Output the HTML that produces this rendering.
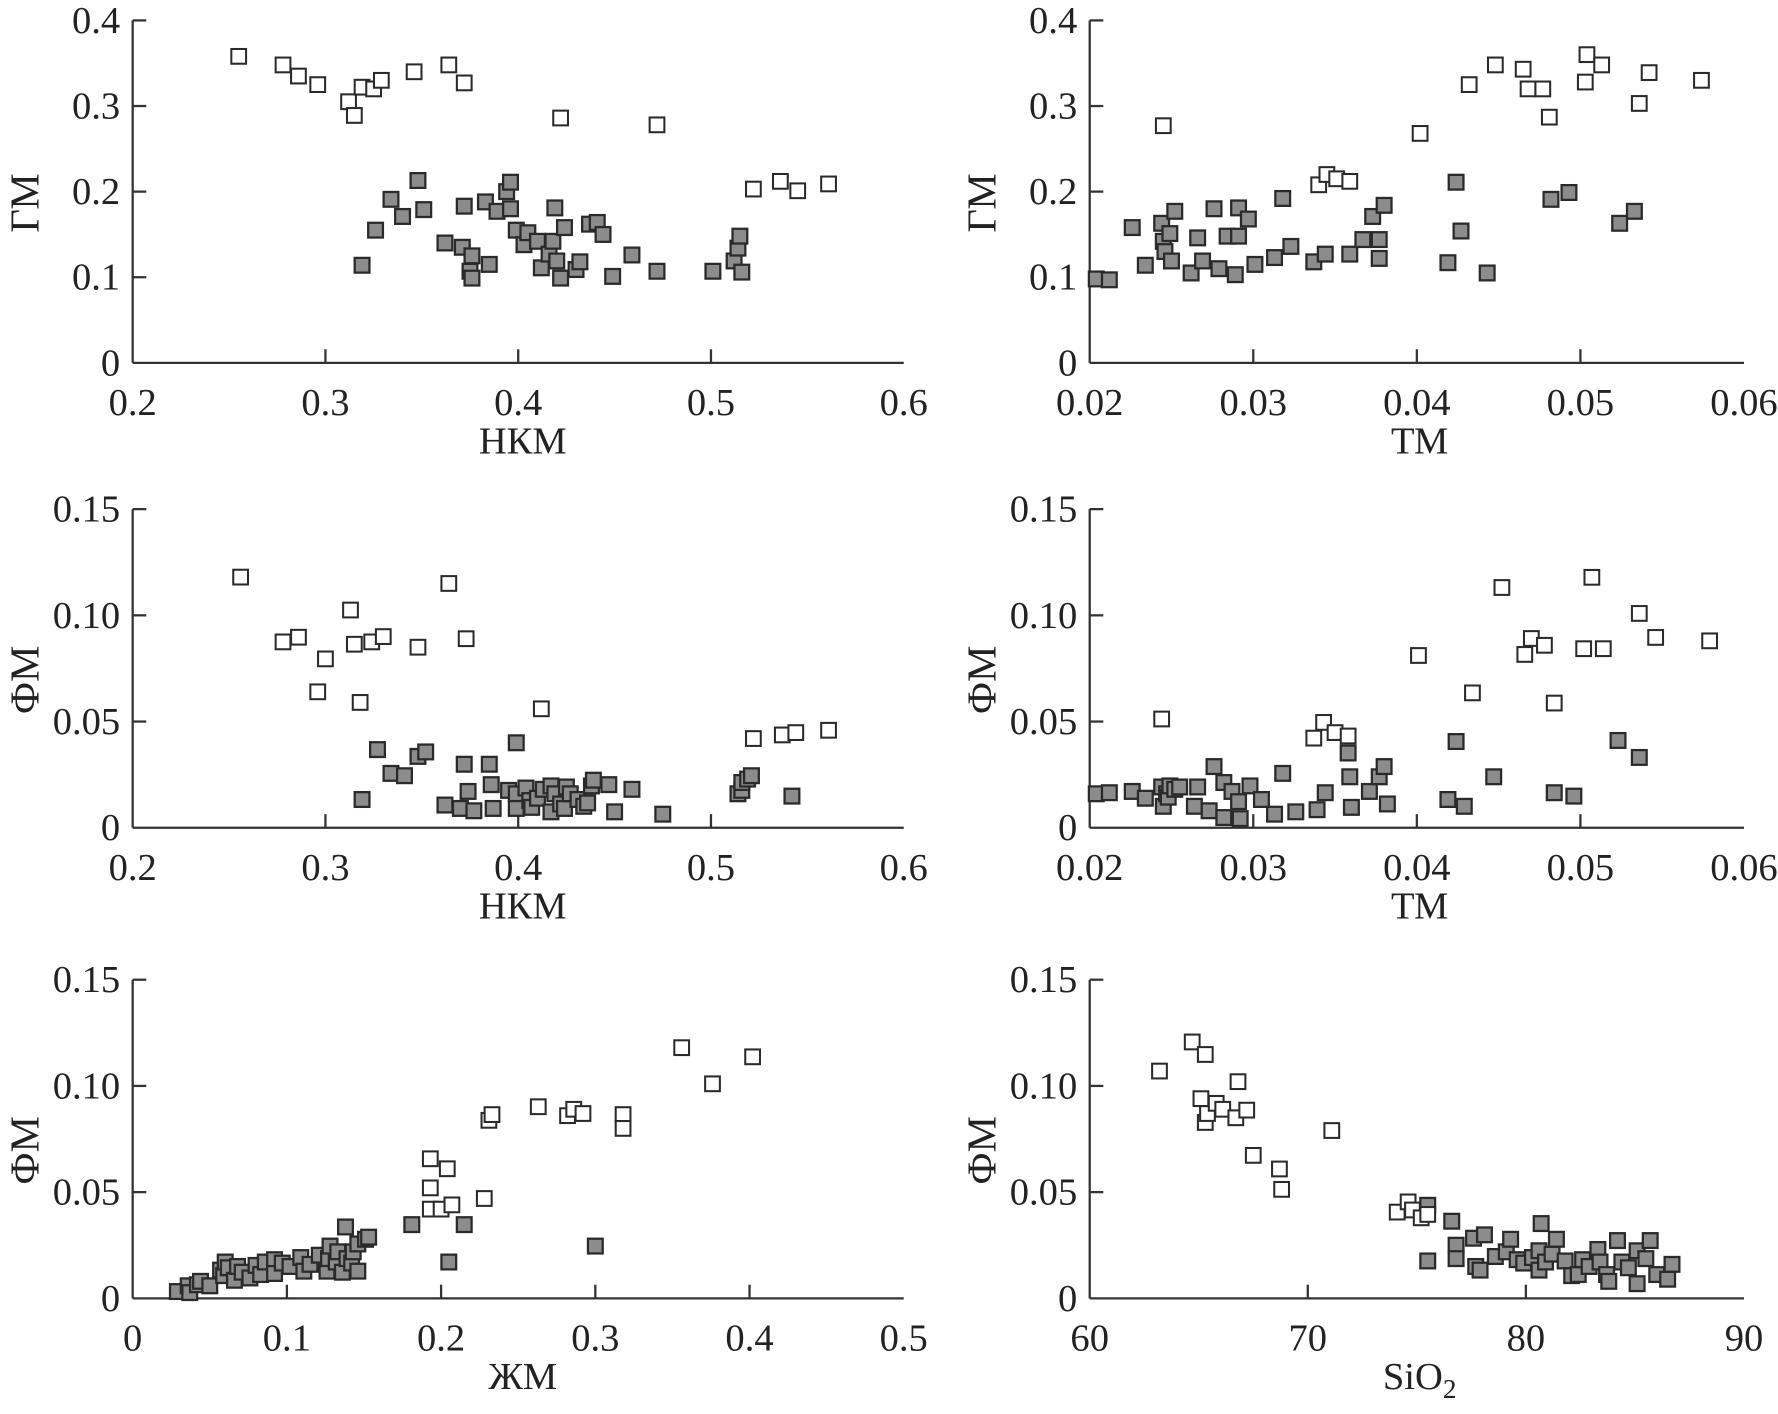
<!DOCTYPE html>
<html><head><meta charset="utf-8"><style>
html,body{margin:0;padding:0;background:#fff;}
svg{display:block;}
text{font-family:"Liberation Serif","DejaVu Serif",serif;fill:#222;}
</style></head><body>
<svg id="fig" width="1778" height="1414" viewBox="0 0 1568 1247" xmlns="http://www.w3.org/2000/svg"></svg>
<script>
// Panel 1: НКМ vs ГМ
const p1OpenX=[0.255,0.278,0.286,0.296,0.312,0.315,0.319,0.325,0.329,0.346,0.364,0.372,0.422,0.472,0.522,0.536,0.545,0.561];
const p1OpenY=[0.358,0.348,0.335,0.325,0.305,0.289,0.322,0.320,0.330,0.340,0.348,0.327,0.286,0.278,0.203,0.212,0.201,0.209];
const p1FillX=[0.319,0.326,0.334,0.340,0.348,0.351,0.362,0.371,0.372,0.376,0.375,0.376,0.385,0.383,0.389,0.394,0.396,0.396,0.399,0.403,0.405,0.410,0.412,0.416,0.418,0.419,0.420,0.422,0.424,0.430,0.432,0.437,0.441,0.444,0.449,0.459,0.472,0.501,0.512,0.514,0.515,0.516];
const p1FillY=[0.114,0.155,0.191,0.171,0.213,0.179,0.140,0.135,0.183,0.125,0.107,0.099,0.115,0.188,0.177,0.200,0.211,0.180,0.155,0.138,0.152,0.142,0.111,0.127,0.142,0.181,0.119,0.099,0.158,0.109,0.118,0.162,0.164,0.150,0.101,0.126,0.107,0.107,0.119,0.134,0.148,0.106];
// Panel 2: ТМ vs ГМ
const p2OpenX=[0.0245,0.0402,0.0432,0.0448,0.0465,0.0468,0.0477,0.0481,0.0503,0.0504,0.0513,0.0536,0.0542,0.0574,0.0340,0.0345,0.0351,0.0359];
const p2OpenY=[0.277,0.268,0.325,0.348,0.343,0.320,0.320,0.287,0.328,0.360,0.348,0.303,0.339,0.330,0.208,0.220,0.215,0.212];
const p2FillX=[0.0204,0.0212,0.0226,0.0234,0.0244,0.0245,0.0246,0.0249,0.0250,0.0252,0.0262,0.0266,0.0269,0.0276,0.0279,0.0284,0.0289,0.0291,0.0291,0.0297,0.0301,0.0313,0.0318,0.0323,0.0337,0.0344,0.0359,0.0367,0.0373,0.0377,0.0377,0.0380,0.0419,0.0424,0.0427,0.0443,0.0482,0.0493,0.0524,0.0533];
const p2FillY=[0.098,0.097,0.158,0.114,0.163,0.142,0.130,0.151,0.119,0.177,0.105,0.146,0.119,0.180,0.110,0.148,0.103,0.181,0.148,0.168,0.115,0.123,0.192,0.136,0.118,0.127,0.127,0.144,0.171,0.144,0.122,0.184,0.117,0.211,0.154,0.105,0.191,0.199,0.163,0.177];
// Panel 3: НКМ vs ФМ
const p3OpenX=[0.256,0.278,0.286,0.300,0.296,0.313,0.315,0.318,0.324,0.330,0.348,0.364,0.373,0.412,0.522,0.537,0.544,0.561];
const p3OpenY=[0.118,0.0875,0.0897,0.0795,0.064,0.1025,0.0864,0.059,0.0875,0.090,0.085,0.115,0.089,0.056,0.042,0.0437,0.0448,0.0459];
const p3FillX=[0.319,0.327,0.334,0.341,0.348,0.352,0.362,0.370,0.372,0.374,0.377,0.385,0.386,0.387,0.395,0.399,0.399,0.399,0.404,0.406,0.407,0.410,0.413,0.417,0.417,0.419,0.422,0.424,0.425,0.427,0.431,0.434,0.436,0.438,0.439,0.447,0.450,0.459,0.475,0.514,0.516,0.516,0.519,0.521,0.542];
const p3FillY=[0.0133,0.0368,0.0256,0.0245,0.0336,0.0357,0.0107,0.0091,0.0299,0.0171,0.008,0.0299,0.0203,0.0091,0.0176,0.016,0.040,0.0091,0.0187,0.0128,0.0096,0.0139,0.0181,0.0075,0.0197,0.016,0.0112,0.0091,0.0192,0.016,0.0133,0.0101,0.0117,0.0197,0.0224,0.0203,0.0075,0.0181,0.0064,0.016,0.0176,0.0213,0.0229,0.0245,0.0149];
// Panel 4: ТМ vs ФМ
const p4OpenX=[0.0244,0.0337,0.0343,0.0350,0.0358,0.0401,0.0434,0.0452,0.0466,0.0470,0.0478,0.0484,0.0502,0.0507,0.0514,0.0536,0.0546,0.0579];
const p4OpenY=[0.0512,0.0422,0.0496,0.0448,0.0432,0.0811,0.0635,0.1131,0.0816,0.0891,0.0859,0.0587,0.0843,0.1179,0.0843,0.1009,0.0896,0.088];
const p4FillX=[0.0204,0.0212,0.0226,0.0234,0.0244,0.0245,0.0247,0.0248,0.0249,0.0252,0.0255,0.0264,0.0266,0.0273,0.0276,0.0282,0.0282,0.0287,0.0291,0.0292,0.0298,0.0305,0.0313,0.0318,0.0326,0.0339,0.0344,0.0358,0.0359,0.0360,0.0371,0.0377,0.0380,0.0382,0.0419,0.0424,0.0429,0.0447,0.0484,0.0496,0.0523,0.0536];
const p4FillY=[0.016,0.0165,0.0171,0.0139,0.0192,0.0101,0.016,0.0144,0.0197,0.0181,0.0192,0.0101,0.0192,0.008,0.0288,0.0213,0.0048,0.0171,0.0123,0.0043,0.0197,0.0133,0.0064,0.0256,0.0075,0.0085,0.0165,0.0352,0.024,0.0096,0.0171,0.024,0.0288,0.0112,0.0133,0.0406,0.0101,0.024,0.0165,0.0149,0.0411,0.0331];
// Panel 5: ЖМ vs ФМ
const p5OpenX=[0.193,0.204,0.193,0.193,0.200,0.207,0.228,0.231,0.233,0.263,0.282,0.286,0.292,0.318,0.318,0.356,0.376,0.402];
const p5OpenY=[0.0657,0.061,0.052,0.042,0.042,0.044,0.047,0.0838,0.0865,0.0902,0.086,0.089,0.087,0.0865,0.080,0.118,0.101,0.1137];
const p5FillX=[0.029,0.036,0.037,0.042,0.044,0.050,0.057,0.059,0.060,0.062,0.066,0.068,0.071,0.076,0.080,0.083,0.086,0.092,0.092,0.097,0.102,0.109,0.111,0.115,0.121,0.126,0.127,0.128,0.132,0.133,0.136,0.138,0.139,0.142,0.143,0.146,0.146,0.151,0.153,0.181,0.205,0.215,0.300];
const p5FillY=[0.0032,0.0059,0.0027,0.0064,0.008,0.0059,0.0133,0.0107,0.0171,0.0144,0.0085,0.015,0.0123,0.0096,0.0155,0.0112,0.0171,0.0182,0.0117,0.0166,0.015,0.0192,0.0128,0.016,0.0203,0.0128,0.0187,0.0246,0.0171,0.0219,0.0123,0.0336,0.0187,0.0166,0.0219,0.0128,0.0256,0.0278,0.0288,0.0347,0.0171,0.0347,0.0246];
// Panel 6: SiO2 vs ФМ
const p6OpenX=[63.2,64.7,65.3,65.1,65.3,65.4,65.8,66.1,66.7,66.8,67.2,67.5,68.7,68.8,71.1,74.1,74.6,74.8,75.2,75.5];
const p6OpenY=[0.107,0.1207,0.1148,0.094,0.0828,0.087,0.0918,0.089,0.085,0.102,0.0886,0.0673,0.0609,0.0513,0.079,0.0406,0.0454,0.0416,0.0379,0.0395];
const p6FillX=[75.5,75.5,76.6,76.8,76.8,77.6,77.7,78.1,77.9,78.6,79.1,79.3,79.6,79.9,80.3,80.6,80.6,80.7,80.9,81.2,81.4,81.8,82.1,82.4,82.6,82.9,83.3,83.4,83.7,83.8,84.2,84.4,84.7,85.1,85.1,85.5,85.7,86.0,86.5,86.7];
const p6FillY=[0.0438,0.0176,0.0363,0.025,0.0187,0.0283,0.015,0.0299,0.0133,0.0197,0.0219,0.0278,0.0182,0.0166,0.0192,0.0224,0.0133,0.0352,0.0171,0.0208,0.0278,0.0176,0.0107,0.0112,0.0182,0.015,0.0230,0.0171,0.0112,0.008,0.0272,0.0171,0.0144,0.0224,0.0069,0.0187,0.0272,0.0112,0.009,0.016];

const xTicksA=["0.2","0.3","0.4","0.5","0.6"];
const xTicksB=["0.02","0.03","0.04","0.05","0.06"];
const xTicksC=["0","0.1","0.2","0.3","0.4","0.5"];
const xTicksD=["60","70","80","90"];
const yTicksG=["0","0.1","0.2","0.3","0.4"];
const yTicksF=["0","0.05","0.10","0.15"];

const NS="http://www.w3.org/2000/svg";
const svg=document.getElementById('fig');
function mk(tag,attrs,parent){const e=document.createElementNS(NS,tag);for(const k in attrs)e.setAttribute(k,attrs[k]);(parent||svg).appendChild(e);return e;}

const panels=[
 {name:'nkm-gm',x0:117,x1:797,y0:320,y1:18,xmin:0.2,xmax:0.6,ymin:0,ymax:0.4,xt:xTicksA,yt:yTicksG,xl:'НКМ',yl:'ГМ',ox:p1OpenX,oy:p1OpenY,fx:p1FillX,fy:p1FillY},
 {name:'tm-gm',x0:961,x1:1538,y0:320,y1:18,xmin:0.02,xmax:0.06,ymin:0,ymax:0.4,xt:xTicksB,yt:yTicksG,xl:'ТМ',yl:'ГМ',ox:p2OpenX,oy:p2OpenY,fx:p2FillX,fy:p2FillY},
 {name:'nkm-fm',x0:117,x1:797,y0:730,y1:449,xmin:0.2,xmax:0.6,ymin:0,ymax:0.15,xt:xTicksA,yt:yTicksF,xl:'НКМ',yl:'ФМ',ox:p3OpenX,oy:p3OpenY,fx:p3FillX,fy:p3FillY},
 {name:'tm-fm',x0:961,x1:1538,y0:730,y1:449,xmin:0.02,xmax:0.06,ymin:0,ymax:0.15,xt:xTicksB,yt:yTicksF,xl:'ТМ',yl:'ФМ',ox:p4OpenX,oy:p4OpenY,fx:p4FillX,fy:p4FillY},
 {name:'zhm-fm',x0:117,x1:797,y0:1145,y1:864,xmin:0,xmax:0.5,ymin:0,ymax:0.15,xt:xTicksC,yt:yTicksF,xl:'ЖМ',yl:'ФМ',ox:p5OpenX,oy:p5OpenY,fx:p5FillX,fy:p5FillY},
 {name:'sio2-fm',x0:961,x1:1538,y0:1145,y1:864,xmin:60,xmax:90,ymin:0,ymax:0.15,xt:xTicksD,yt:yTicksF,xl:'SiO',yl:'ФМ',sub:'2',ox:p6OpenX,oy:p6OpenY,fx:p6FillX,fy:p6FillY}
];

panels.forEach(p=>{
 const g=mk('g',{});
 
 
 const sx=v=>p.x0+(v-p.xmin)/(p.xmax-p.xmin)*(p.x1-p.x0);
 const sy=v=>p.y0-(v-p.ymin)/(p.ymax-p.ymin)*(p.y0-p.y1);
 const ax=mk('line',{x1:p.x0,y1:p.y0,x2:p.x1,y2:p.y0,stroke:'#333','stroke-width':2},g);
 
 
 const ay=mk('line',{x1:p.x0,y1:p.y0,x2:p.x0,y2:p.y1,stroke:'#333','stroke-width':2},g);
 
 
 p.xt.forEach(t=>{
  const x=sx(parseFloat(t));
  if(x>p.x0+1&&x<p.x1-1)mk('line',{x1:x,y1:p.y0,x2:x,y2:p.y0-12,stroke:'#333','stroke-width':2},g);
  const tx=mk('text',{x:x,y:p.y0+46,'text-anchor':'middle','font-size':34},g);
  tx.textContent=t;
  
  
 });
 p.yt.forEach(t=>{
  const y=sy(parseFloat(t));
  if(y<p.y0-1)mk('line',{x1:p.x0,y1:y,x2:p.x0+12,y2:y,stroke:'#333','stroke-width':2},g);
  const tx=mk('text',{x:p.x0-11,y:y+11,'text-anchor':'end','font-size':34},g);
  tx.textContent=t;
  
  
 });
 const cx=(p.x0+p.x1)/2-(p.x0>500?45:0)+0;
 const xt=mk('text',{x:p.x0>500?1252:461,y:p.y0+80,'text-anchor':'middle','font-size':34},g);
 xt.textContent=p.xl;
 if(p.sub){const s=mk('tspan',{'font-size':24,dy:8},xt);s.textContent=p.sub;}
 
 
 const ym=(p.y0+p.y1)/2+10;
 const yx=p.x0>500?878:34;
 const yt=mk('text',{x:yx,y:ym,'text-anchor':'middle','font-size':36,transform:`rotate(-90 ${yx} ${ym})`},g);
 yt.textContent=p.yl;
 
 
 const s=13;
 p.fx.forEach((v,i)=>{
  const r=mk('rect',{x:sx(v)-s/2,y:sy(p.fy[i])-s/2,width:s,height:s,fill:'#8c8c8c',stroke:'#2a2a2a','stroke-width':2},g);
  
  
 });
 p.ox.forEach((v,i)=>{
  const r=mk('rect',{x:sx(v)-s/2,y:sy(p.oy[i])-s/2,width:s,height:s,fill:'#fff',stroke:'#2a2a2a','stroke-width':1.8},g);
  
  
 });
});
</script>
</body></html>
